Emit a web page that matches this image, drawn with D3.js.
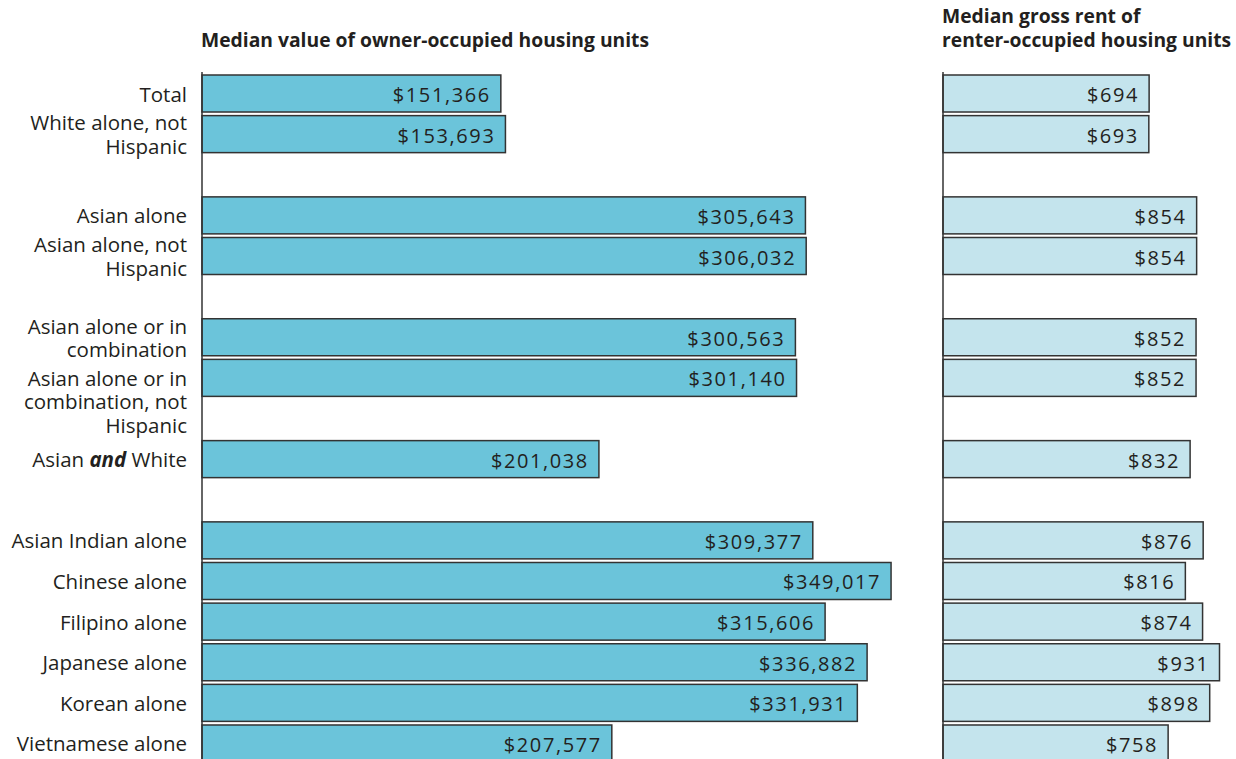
<!DOCTYPE html>
<html>
<head>
<meta charset="utf-8">
<script src="https://cdn.jsdelivr.net/npm/d3@7"></script>
<style>
  body { margin: 0; background: #fff; }
  text { font-family: "Open Sans", "DejaVu Sans", sans-serif; fill: #231f20; }
</style>
</head>
<body>
<svg id="chart" width="1236" height="759"></svg>
<script>
// rows of the chart, null = empty spacer slot
const categories = [
    ["Total"],
    ["White alone, not", "Hispanic"],
    null,
    ["Asian alone"],
    ["Asian alone, not", "Hispanic"],
    null,
    ["Asian alone or in", "combination"],
    ["Asian alone or in", "combination, not", "Hispanic"],
    null,
    ["Asian *and* White"],
    null,
    ["Asian Indian alone"],
    ["Chinese alone"],
    ["Filipino alone"],
    ["Japanese alone"],
    ["Korean alone"],
    ["Vietnamese alone"]
];

const ownerValues = [151366, 153693, null, 305643, 306032, null, 300563, 301140, null,
    201038, null, 309377, 349017, 315606, 336882, 331931, 207577];

const rentValues = [694, 693, null, 854, 854, null, 852, 852, null,
    832, null, 876, 816, 874, 931, 898, 758];

const leftTitle = ["Median value of owner-occupied housing units"];
const rightTitle = ["Median gross rent of", "renter-occupied housing units"];

const svg = d3.select("#chart");
const slots = d3.range(categories.length);

/***
 * Scales
 */
const y = d3.scaleBand()
    .domain(slots)
    .range([75, 762])
    .paddingInner(0.089)
    .paddingOuter(0);

const xOwner = d3.scaleLinear().domain([0, 350000]).range([202, 893]);
const xRent = d3.scaleLinear().domain([0, 1000]).range([943, 1240]);

const fmtOwner = d => "$" + d3.format(",")(d);
const fmtRent = d => "$" + d;

/***
 * Category labels
 */
const labels = svg.append("g").attr("class", "labels");
categories.forEach((lines, i) => {
    if (!lines) return;
    const cy = y(i) + y.bandwidth() / 2;
    const start = lines.length === 2 ? -0.5 : 0;
    lines.forEach((line, j) => {
        const t = labels.append("text")
            .attr("x", 187)
            .attr("y", cy + (start + j) * 23.5)
            .attr("text-anchor", "end")
            .attr("dominant-baseline", "central")
            .style("font-size", "20.5px");
        line.split(/(\*[^*]+\*)/).forEach(part => {
            if (!part) return;
            if (part.startsWith("*")) {
                t.append("tspan")
                    .style("font-weight", "bold")
                    .style("font-style", "italic")
                    .text(part.slice(1, -1) + " ");
            } else {
                t.append("tspan").text(part.replace(/^ /, ""));
            }
        });
    });
});

/***
 * Panel drawing
 */
function drawPanel(values, x, fill, fmt, title, titleY) {
    const g = svg.append("g");

    title.forEach((line, j) => {
        g.append("text")
            .attr("x", x.range()[0] - 1)
            .attr("y", titleY + j * 24)
            .style("font-size", "19.3px")
            .style("font-weight", "bold")
            .text(line);
    });

    const data = values
        .map((v, i) => ({ i: i, v: v }))
        .filter(d => d.v !== null);

    g.selectAll("rect")
        .data(data)
        .join("rect")
        .attr("x", x(0))
        .attr("y", d => y(d.i))
        .attr("width", d => x(d.v) - x(0))
        .attr("height", y.bandwidth())
        .attr("fill", fill)
        .attr("stroke", "#333")
        .attr("stroke-width", 1.5);

    g.selectAll("text.value")
        .data(data)
        .join("text")
        .attr("class", "value")
        .attr("x", d => x(d.v) - 10)
        .attr("y", d => y(d.i) + y.bandwidth() / 2 + 1)
        .attr("text-anchor", "end")
        .attr("dominant-baseline", "central")
        .style("font-size", "20px")
        .style("letter-spacing", "1.6px")
        .text(d => fmt(d.v));

    g.append("line")
        .attr("x1", x(0))
        .attr("x2", x(0))
        .attr("y1", 72)
        .attr("y2", 759)
        .attr("stroke", "#333")
        .attr("stroke-width", 1.5);
}

drawPanel(ownerValues, xOwner, "#6bc4da", fmtOwner, leftTitle, 47);
drawPanel(rentValues, xRent, "#c4e4ed", fmtRent, rightTitle, 23);
</script>
</body>
</html>
